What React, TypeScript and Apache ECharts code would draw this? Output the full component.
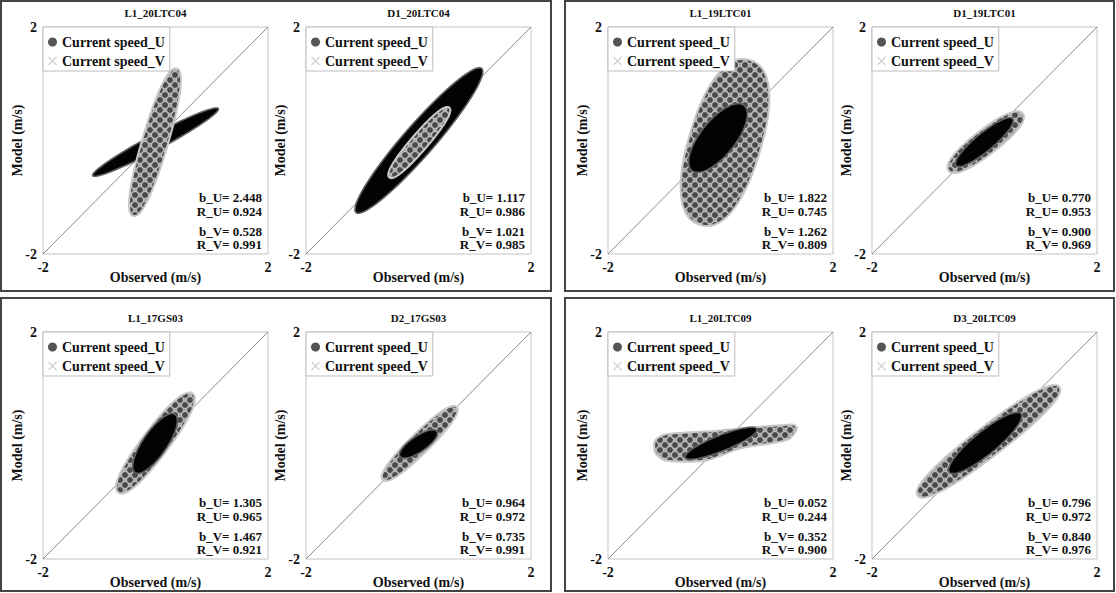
import React, { useEffect, useRef } from "react";
import * as echarts from "echarts";

// ---- data ----
const stations = ["L1_20LTC04", "D1_20LTC04", "L1_19LTC01", "D1_19LTC01", "L1_17GS03", "D2_17GS03", "L1_20LTC09", "D3_20LTC09"];
const axisTicks = [-2, 2];
const oneToOne = [[-2, -2], [2, 2]];

const bU = [2.448, 1.117, 1.822, 0.770, 1.305, 0.964, 0.052, 0.796];
const rU = [0.924, 0.986, 0.745, 0.953, 0.965, 0.972, 0.244, 0.972];
const bV = [0.528, 1.021, 1.262, 0.900, 1.467, 0.735, 0.352, 0.840];
const rV = [0.991, 0.985, 0.809, 0.969, 0.921, 0.991, 0.900, 0.976];

// Envelope of each scatter cloud (m/s): the two tips of the long axis and the cloud width
const uCloudEnds = [
  [[-0.395, -1.327], [0.377, 1.269]],
  [[-0.519, -0.65], [0.548, 0.579]],
  [[-0.364, -1.487], [0.524, 1.416]],
  [[-0.636, -0.531], [0.679, 0.473]],
  [[-0.661, -0.827], [0.661, 0.915]],
  [[-0.636, -0.607], [0.679, 0.678]],
  null,
  [[-1.188, -0.885], [1.33, 1.032]],
];
const uCloudWidths = [0.46, 0.3, 1.28, 0.44, 0.48, 0.36, 0, 0.53];
// L1_20LTC09 U cloud is not elliptical: traced outline (m/s)
const uOutlineL1_20LTC09 = [
  [-1.164, 0.088], [-0.987, 0.195], [-0.009, 0.265], [1.289, 0.372], [1.36, 0.301],
  [1.236, 0.124], [0.987, 0.053], [0.347, -0.053], [-0.258, -0.265], [-0.987, -0.265], [-1.164, -0.124],
];

const vCloudEnds = [
  [[-1.116, -0.619], [1.116, 0.561]],
  [[-1.111, -1.269], [1.124, 1.269]],
  [[-0.507, -0.531], [0.418, 0.619]],
  [[-0.507, -0.442], [0.501, 0.384]],
  [[-0.364, -0.478], [0.347, 0.549]],
  [[-0.329, -0.195], [0.329, 0.248]],
  [[-0.631, -0.212], [0.649, 0.292]],
  [[-0.626, -0.473], [0.649, 0.561]],
];
const vCloudWidths = [0.27, 0.55, 0.62, 0.32, 0.43, 0.28, 0.28, 0.41];
const vDrawnOnTop = [false, false, true, true, true, true, true, true];

// ---- layout ----
const FONT = "'Liberation Serif', 'Times New Roman', serif";
const PLOT_LEFTS = [43, 306, 608, 872];
const PLOT_TOPS = [27, 332];
const PW = 225;
const PH = 227;
const NAME_U = "Current speed_U";
const NAME_V = "Current speed_V";
const X_ICON = "path://M1,0 L5,4 L9,0 L10,1 L6,5 L10,9 L9,10 L5,6 L1,10 L0,9 L4,5 L0,1 Z";

// Packed grey markers with pale rims, used to fill the U clouds
function dotTile(): string {
  const c = document.createElement("canvas");
  c.width = 10;
  c.height = 10;
  const g = c.getContext("2d")!;
  g.fillStyle = "#a8a8a8";
  g.fillRect(0, 0, 10, 10);
  for (const [x, y] of [[0, 0], [10, 0], [0, 10], [10, 10], [5, 5]]) {
    g.beginPath();
    g.arc(x, y, 3.5, 0, Math.PI * 2);
    g.fillStyle = "#4a4a4a";
    g.fill();
    g.lineWidth = 0.8;
    g.strokeStyle = "#dcdcdc";
    g.stroke();
  }
  return c.toDataURL();
}

// Elongated ellipse between two tips, built in pixel space from axis coordinates
function ellipseRenderer(style: any, power: number) {
  return (params: any, api: any) => {
    const p1 = api.coord([api.value(0), api.value(1)]);
    const p2 = api.coord([api.value(2), api.value(3)]);
    const half = api.size([api.value(4), 0])[0] / 2;
    const cx = (p1[0] + p2[0]) / 2;
    const cy = (p1[1] + p2[1]) / 2;
    const dx = p2[0] - p1[0];
    const dy = p2[1] - p1[1];
    const len = Math.hypot(dx, dy);
    const a = len / 2;
    const ux = dx / len, uy = dy / len;
    const vx = -uy, vy = ux;
    const pts: number[][] = [];
    const N = 96;
    for (let k = 0; k < N; k++) {
      const t = (2 * Math.PI * k) / N;
      const c = Math.cos(t), s = Math.sin(t);
      const ex = Math.sign(c) * Math.pow(Math.abs(c), 2 / power);
      const ey = Math.sign(s) * Math.pow(Math.abs(s), 2 / power);
      pts.push([cx + a * ex * ux + half * ey * vx, cy + a * ex * uy + half * ey * vy]);
    }
    return { type: "polygon", shape: { points: pts }, style };
  };
}

function outlineRenderer(outline: number[][], style: any) {
  return (params: any, api: any) => {
    if (params.dataIndex !== 0) return null;
    return { type: "polygon", shape: { points: outline.map((p) => api.coord(p)), smooth: 0.25 }, style };
  };
}

function buildOption() {
  const tile = dotTile();
  const uStyle = {
    fill: { image: tile, repeat: "repeat", imageWidth: 10, imageHeight: 10 },
    stroke: "#c8c8c8",
    lineWidth: 2,
  };
  const vStyle = { fill: "#030303", stroke: "#5e5e5e", lineWidth: 1.6 };

  const grid: any[] = [];
  const xAxis: any[] = [];
  const yAxis: any[] = [];
  const series: any[] = [];
  const legend: any[] = [];
  const graphic: any[] = [];

  const labelStyle = { fontFamily: FONT, fontWeight: "bold", color: "#111" };

  stations.forEach((name, i) => {
    const left = PLOT_LEFTS[i % 4];
    const top = PLOT_TOPS[Math.floor(i / 4)];
    grid.push({ left, top, width: PW, height: PH, show: true, borderColor: "#c4c4c4", borderWidth: 1, backgroundColor: "transparent" });
    xAxis.push({
      gridIndex: i, type: "value", min: axisTicks[0], max: axisTicks[1], interval: axisTicks[1] - axisTicks[0],
      axisLine: { show: false }, axisTick: { show: false }, splitLine: { show: false },
      axisLabel: { ...labelStyle, fontSize: 14, margin: 6 },
      name: "Observed (m/s)", nameLocation: "middle", nameGap: 16, nameMoveOverlap: false,
      nameTextStyle: { ...labelStyle, fontSize: 14 },
    });
    yAxis.push({
      gridIndex: i, type: "value", min: axisTicks[0], max: axisTicks[1], interval: axisTicks[1] - axisTicks[0],
      axisLine: { show: false }, axisTick: { show: false }, splitLine: { show: false },
      axisLabel: { ...labelStyle, fontSize: 14, margin: 6, padding: [5, 0, 0, 0] },
      name: "Model (m/s)", nameLocation: "middle", nameGap: 19, nameMoveOverlap: false,
      nameTextStyle: { ...labelStyle, fontSize: 14 },
    });

    series.push({
      type: "line", xAxisIndex: i, yAxisIndex: i, data: oneToOne, symbol: "none", silent: true, z: 1,
      lineStyle: { color: "#8a8a8a", width: 1 },
    });

    const ends = uCloudEnds[i];
    if (ends) {
      series.push({
        type: "custom", name: NAME_U, xAxisIndex: i, yAxisIndex: i, silent: true,
        z: vDrawnOnTop[i] ? 2 : 3,
        data: [[ends[0][0], ends[0][1], ends[1][0], ends[1][1], uCloudWidths[i]]],
        renderItem: ellipseRenderer(uStyle, 2.3),
      });
    } else {
      series.push({
        type: "custom", name: NAME_U, xAxisIndex: i, yAxisIndex: i, silent: true,
        z: vDrawnOnTop[i] ? 2 : 3,
        data: uOutlineL1_20LTC09,
        renderItem: outlineRenderer(uOutlineL1_20LTC09, uStyle),
      });
    }
    const ve = vCloudEnds[i];
    series.push({
      type: "custom", name: NAME_V, xAxisIndex: i, yAxisIndex: i, silent: true,
      z: vDrawnOnTop[i] ? 3 : 2,
      data: [[ve[0][0], ve[0][1], ve[1][0], ve[1][1], vCloudWidths[i]]],
      renderItem: ellipseRenderer(vStyle, 2),
    });

    legend.push({
      left, top, orient: "vertical", selectedMode: false, z: 10,
      backgroundColor: "#fff", borderColor: "#bdbdbd", borderWidth: 1,
      padding: [7, 5, 2, 5], itemGap: 3, itemWidth: 9, itemHeight: 9,
      textStyle: { ...labelStyle, fontSize: 14, lineHeight: 16 },
      data: [
        { name: NAME_U, icon: "circle", itemStyle: { color: "#555" } },
        { name: NAME_V, icon: X_ICON, itemStyle: { color: "#d2d2d2" } },
      ],
    });

    graphic.push({
      type: "text", x: left + PW / 2, y: top - 14, z: 10,
      style: { text: name, fontFamily: FONT, fontWeight: "bold", fontSize: 11, fill: "#111", textAlign: "center", textVerticalAlign: "middle" },
    });
    const stats = [
      [`b_U= ${bU[i].toFixed(3)}`, 57],
      [`R_U= ${rU[i].toFixed(3)}`, 43],
      [`b_V= ${bV[i].toFixed(3)}`, 23],
      [`R_V= ${rV[i].toFixed(3)}`, 10],
    ];
    stats.forEach(([t, off]) => {
      graphic.push({
        type: "text", x: left + PW - 6, y: top + PH - (off as number), z: 10,
        style: { text: t, fontFamily: FONT, fontWeight: "bold", fontSize: 13, fill: "#111", textAlign: "right", textVerticalAlign: "middle" },
      });
    });
  });

  // Frames around the four station pairs
  const frames = [
    [1, 1, 550, 290],
    [565, 1, 549, 290],
    [1, 298, 550, 293],
    [565, 298, 549, 293],
  ];
  frames.forEach(([x, y, w, h]) => {
    graphic.push({ type: "rect", shape: { x, y, width: w, height: h }, style: { fill: "none", stroke: "#444", lineWidth: 2 }, z: 0, silent: true });
  });

  return { animation: false, backgroundColor: "#fff", grid, xAxis, yAxis, series, legend, graphic };
}

export default function App() {
  const ref = useRef<HTMLDivElement>(null);
  useEffect(() => {
    document.body.style.margin = "0";
    const chart = echarts.init(ref.current!, null, { renderer: "svg" });
    chart.setOption(buildOption() as any);
    return () => chart.dispose();
  }, []);
  return <div ref={ref} style={{ width: 1116, height: 593 }} />;
}
